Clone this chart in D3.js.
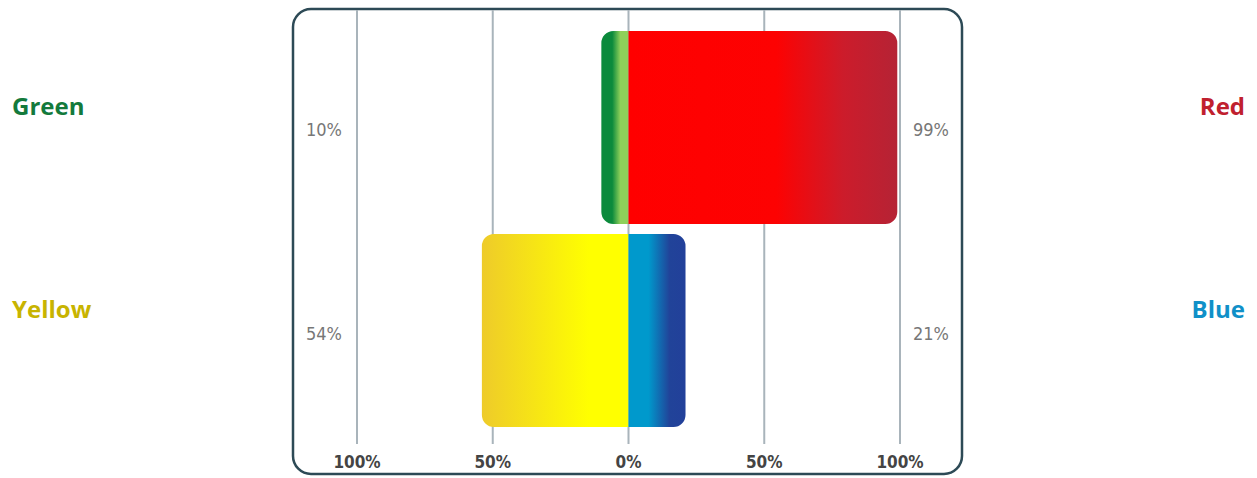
<!DOCTYPE html>
<html>
<head>
<meta charset="utf-8">
<script src="https://cdn.jsdelivr.net/npm/d3@7"></script>
<style>
  body { margin: 0; background: #fff; }
  svg { display: block; }
</style>
</head>
<body>
<svg id="chart" width="1257" height="478"></svg>
<script>
// data
var rows = ['first', 'second'];
var leftNames = ['Green', 'Yellow'];
var rightNames = ['Red', 'Blue'];
var leftValues = [10, 54];
var rightValues = [99, 21];
var tickValues = [-100, -50, 0, 50, 100];
var tickLabels = ['100%', '50%', '0%', '50%', '100%'];

var leftColors = ['#137a3c', '#c8b400'];
var rightColors = ['#c0202e', '#1090c8'];

// gradient stops go from the zero line (0) to the outer end of the bar (1)
var leftStops = [
  [[0, '#8ed05a'], [0.3, '#8ed05a'], [0.6, '#0b8a3c'], [1, '#0b8a3c']],
  [[0, '#ffff00'], [0.27, '#ffff00'], [1, '#eecb2a']]
];
var rightStops = [
  [[0, '#ff0000'], [0.55, '#fd0202'], [0.8, '#cc1c2b'], [1, '#b52335']],
  [[0, '#0099cc'], [0.35, '#0099cc'], [0.72, '#214399'], [1, '#22409a']]
];

var svg = d3.select('#chart');
var defs = svg.append('defs');

var x = d3.scaleLinear().domain([-100, 100]).range([357, 900]);
var y = d3.scaleBand().domain(rows).range([31, 427]).paddingInner(0.05);
var radius = 12;

// frame
svg.append('rect')
  .attr('x', 293).attr('y', 9)
  .attr('width', 669).attr('height', 465)
  .attr('rx', 18).attr('ry', 18)
  .attr('fill', '#fff')
  .attr('stroke', '#2d4a56')
  .attr('stroke-width', 2.5);

// grid lines
svg.append('g').selectAll('line')
  .data(tickValues)
  .enter().append('line')
  .attr('x1', function (d) { return x(d); })
  .attr('x2', function (d) { return x(d); })
  .attr('y1', 10)
  .attr('y2', 444)
  .attr('stroke', '#a9b4bb')
  .attr('stroke-width', 2);

// bottom tick labels
svg.append('g').selectAll('text')
  .data(tickValues)
  .enter().append('text')
  .attr('x', function (d) { return x(d); })
  .attr('y', 468)
  .attr('text-anchor', 'middle')
  .attr('font-family', '"DejaVu Sans Condensed", "DejaVu Sans", sans-serif')
  .attr('font-weight', 'bold')
  .attr('font-size', 17)
  .attr('fill', '#444')
  .text(function (d, i) { return tickLabels[i]; });

// bar path with rounded corners only on the outer end
var barPath = function (x0, x1, y0, h) {
  var r = Math.min(radius, Math.abs(x1 - x0), h / 2);
  var p = d3.path();
  if (x1 > x0) {
    p.moveTo(x0, y0);
    p.lineTo(x1 - r, y0);
    p.arcTo(x1, y0, x1, y0 + r, r);
    p.lineTo(x1, y0 + h - r);
    p.arcTo(x1, y0 + h, x1 - r, y0 + h, r);
    p.lineTo(x0, y0 + h);
  } else {
    p.moveTo(x0, y0);
    p.lineTo(x1 + r, y0);
    p.arcTo(x1, y0, x1, y0 + r, r);
    p.lineTo(x1, y0 + h - r);
    p.arcTo(x1, y0 + h, x1 + r, y0 + h, r);
    p.lineTo(x0, y0 + h);
  }
  p.closePath();
  return p.toString();
};

var addGradient = function (id, from, to, stops) {
  var g = defs.append('linearGradient')
    .attr('id', id)
    .attr('gradientUnits', 'userSpaceOnUse')
    .attr('x1', from).attr('x2', to)
    .attr('y1', 0).attr('y2', 0);
  stops.forEach(function (s) {
    g.append('stop').attr('offset', s[0]).attr('stop-color', s[1]);
  });
  return 'url(#' + id + ')';
};

var bars = svg.append('g');
rows.forEach(function (row, i) {
  var y0 = y(row);
  var h = y.bandwidth();
  var lx = x(-leftValues[i]);
  var rx = x(rightValues[i]);

  bars.append('path')
    .attr('d', barPath(x(0), lx, y0, h))
    .attr('fill', addGradient('lg' + i, x(0), lx, leftStops[i]));

  bars.append('path')
    .attr('d', barPath(x(0), rx, y0, h))
    .attr('fill', addGradient('rg' + i, x(0), rx, rightStops[i]));
});

// percentage labels beside the frame edges
var valueFont = '"DejaVu Sans Condensed", "DejaVu Sans", sans-serif';
svg.append('g').selectAll('text')
  .data(leftValues)
  .enter().append('text')
  .attr('x', 306)
  .attr('y', function (d, i) { return y(rows[i]) + y.bandwidth() / 2 + 9; })
  .attr('font-family', valueFont)
  .attr('font-size', 18)
  .attr('fill', '#777')
  .text(function (d) { return d + '%'; });

svg.append('g').selectAll('text')
  .data(rightValues)
  .enter().append('text')
  .attr('x', 913)
  .attr('y', function (d, i) { return y(rows[i]) + y.bandwidth() / 2 + 9; })
  .attr('font-family', valueFont)
  .attr('font-size', 18)
  .attr('fill', '#777')
  .text(function (d) { return d + '%'; });

// series names at the far sides
var nameFont = '"Open Sans", "Noto Sans", sans-serif';
svg.append('g').selectAll('text')
  .data(leftNames)
  .enter().append('text')
  .attr('x', 12)
  .attr('y', function (d, i) { return y(rows[i]) + y.bandwidth() * 0.39 + 9; })
  .attr('font-family', nameFont)
  .attr('font-weight', 'bold')
  .attr('font-size', 24)
  .attr('fill', function (d, i) { return leftColors[i]; })
  .text(function (d) { return d; });

svg.append('g').selectAll('text')
  .data(rightNames)
  .enter().append('text')
  .attr('x', 1245)
  .attr('y', function (d, i) { return y(rows[i]) + y.bandwidth() * 0.39 + 9; })
  .attr('text-anchor', 'end')
  .attr('font-family', nameFont)
  .attr('font-weight', 'bold')
  .attr('font-size', 24)
  .attr('fill', function (d, i) { return rightColors[i]; })
  .text(function (d) { return d; });
</script>
</body>
</html>
